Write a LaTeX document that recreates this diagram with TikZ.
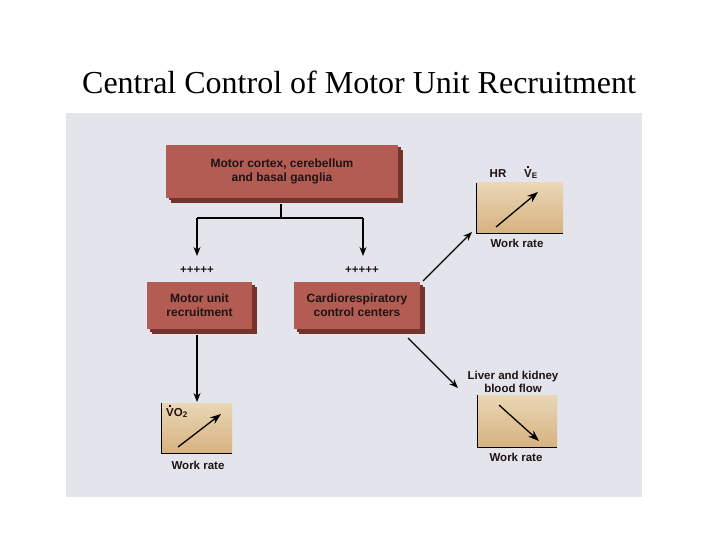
\documentclass[tikz,border=0pt]{standalone}
\usepackage{fontspec}
\setmainfont{Liberation Serif}
\newfontfamily\lsans{Liberation Sans}
\usetikzlibrary{arrows.meta,shadows}
\definecolor{panel}{RGB}{228,228,236}
\definecolor{boxred}{RGB}{178,92,84}
\definecolor{boxshadow}{RGB}{118,50,44}
\definecolor{tanlight}{RGB}{234,215,181}
\definecolor{tandark}{RGB}{214,178,128}
\definecolor{ink}{RGB}{30,20,20}
\newcommand{\dotV}{\ooalign{V\cr\hidewidth\raisebox{0.82em}{\rule{1.6pt}{1.6pt}}\hidewidth\cr}}
\tikzset{
  redbox/.style={draw=none, fill=boxred, text=ink, align=center,
    font=\lsans\bfseries\fontsize{12}{14}\selectfont,
    double copy shadow={shadow xshift=2.5pt, shadow yshift=-2.5pt, fill=boxshadow, draw=none}},
  chartbg/.style={draw=none, top color=tanlight, bottom color=tandark, inner sep=0pt},
  lbl/.style={font=\lsans\bfseries\fontsize{11.5}{13.5}\selectfont, text=ink, align=center, inner sep=0pt},
  conn/.style={line width=1.1pt, -{Stealth[length=9pt,width=7pt]}},
  trend/.style={line width=1.3pt, -{Stealth[length=11pt,width=8pt]}},
  axis/.style={line width=1.2pt}
}
\begin{document}
\begin{tikzpicture}[x=1pt,y=-1pt]
\useasboundingbox[fill=white] (0,0) rectangle (720,540);
% title
\node[font=\fontsize{32}{38}\selectfont] (title) at (359,82) {Central Control of Motor Unit Recruitment};
% panel
\fill[panel] (66,113) rectangle (642,497);
% boxes
\node[redbox, minimum width=232pt, minimum height=53pt] (top) at (282,171.5) {Motor cortex, cerebellum\\and basal ganglia};
\node[redbox, minimum width=105pt, minimum height=47pt] (motor) at (199.5,305.5) {Motor unit\\recruitment};
\node[redbox, minimum width=126pt, minimum height=47pt] (cardio) at (357,305.5) {Cardiorespiratory\\control centers};
% branching connector
\coordinate (split) at (281,218);
\coordinate (lt) at (197,218);
\coordinate (rt) at (363,218);
\coordinate (lt2) at (197,256);
\coordinate (rt2) at (363,256);
\draw[line width=1.1pt] (281,204) -- (split);
\draw[line width=1.1pt] (lt) -- (rt);
\draw[conn] (lt) -- (lt2);
\draw[conn] (rt) -- (rt2);
\node[lbl] (p1) at (197,270) {+++++};
\node[lbl] (p2) at (362,270) {+++++};
% charts
\node[chartbg, minimum width=86pt, minimum height=50pt] (hr) at (520,208) {};
\node[chartbg, minimum width=70pt, minimum height=50pt] (vo) at (197,428) {};
\node[chartbg, minimum width=79pt, minimum height=52pt] (lv) at (517.5,421) {};
\draw[axis] (hr.north west) -- (hr.south west) -- (hr.south east);
\draw[axis] (vo.north west) -- (vo.south west) -- (vo.south east);
\draw[axis] (lv.north west) -- (lv.south west) -- (lv.south east);
% chart labels
\node[lbl] (hrl) at (498,174) {HR};
\node[lbl] (vel) at (531,174) {\dotV\textsubscript{E}};
\node[lbl] (hrw) at (517,243) {Work rate};
\node[lbl] (vol) at (177,413) {\dotV O\textsubscript{2}};
\node[lbl] (vow) at (198,465) {Work rate};
\node[lbl] (lvl) at (513,382) {Liver and kidney\\blood flow};
\node[lbl] (lvw) at (516,457) {Work rate};
% trend arrows
\coordinate (h1) at (496,227); \coordinate (h2) at (538,192);
\coordinate (v1) at (178,447); \coordinate (v2) at (221,414);
\coordinate (l1) at (499,405); \coordinate (l2) at (539,441);
\draw[trend] (h1) -- (h2);
\draw[trend] (v1) -- (v2);
\draw[trend] (l1) -- (l2);
% connectors from boxes
\coordinate (m1) at (197,335);
\coordinate (m2) at (197,402);
\draw[conn] (m1) -- (m2);
\coordinate (c1) at (423,281);
\coordinate (c2) at (472,232);
\draw[conn] (c1) -- (c2);
\coordinate (c3) at (408,338);
\coordinate (c4) at (458,388);
\draw[conn] (c3) -- (c4);
\end{tikzpicture}
\end{document}
